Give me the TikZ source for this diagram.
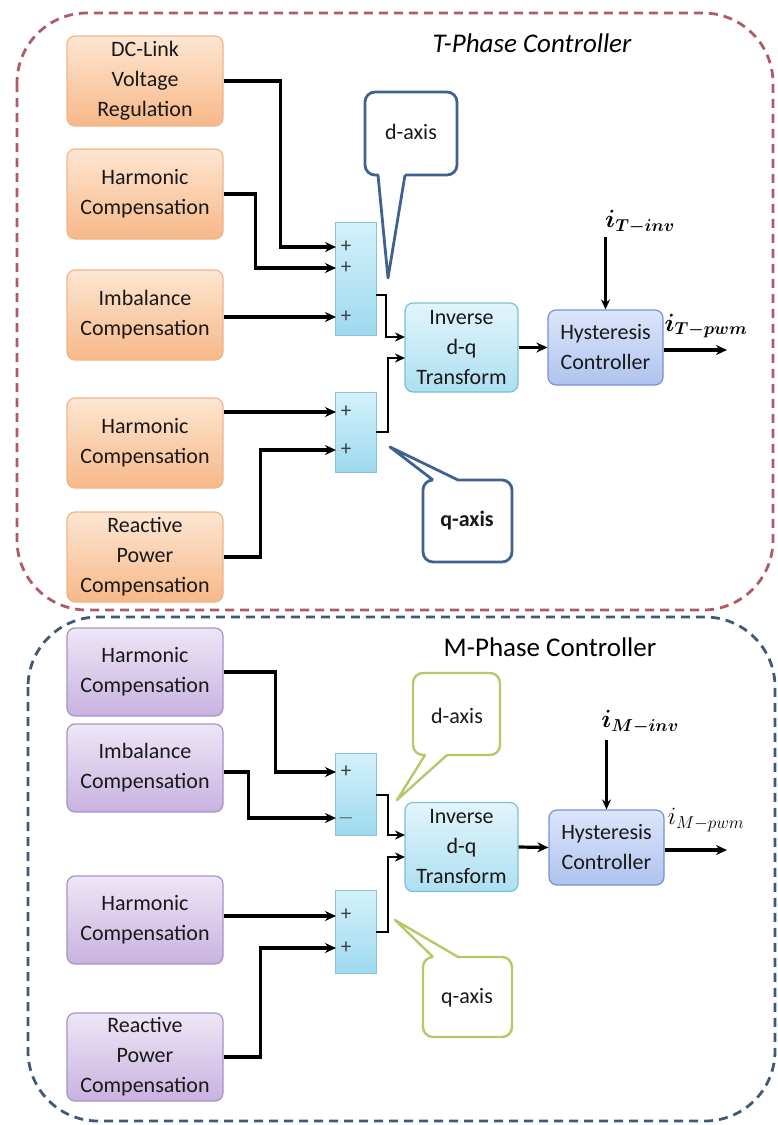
\documentclass[tikz,border=0pt]{standalone}
\usepackage{fontspec}
\setmainfont{Carlito}
\usepackage{amsmath,bm}
\usetikzlibrary{arrows.meta}
\definecolor{tred}{HTML}{B05A66}
\definecolor{mblue}{HTML}{3E5A78}
\definecolor{calblue}{HTML}{3F6290}
\definecolor{calgreen}{HTML}{B7C86A}
\definecolor{otop}{HTML}{FDE6D2}
\definecolor{obot}{HTML}{F7B888}
\definecolor{oedge}{HTML}{EFB48A}
\definecolor{ptop}{HTML}{EEE6F6}
\definecolor{pbot}{HTML}{C8B2E0}
\definecolor{pedge}{HTML}{A892C6}
\definecolor{stop}{HTML}{D4F1FB}
\definecolor{sbot}{HTML}{9ED9EF}
\definecolor{sedge}{HTML}{86C3D8}
\definecolor{itop}{HTML}{E2F5FC}
\definecolor{ibot}{HTML}{ADDFF1}
\definecolor{iedge}{HTML}{7CBFD6}
\definecolor{htop}{HTML}{DCE5FA}
\definecolor{hbot}{HTML}{AFC3EF}
\definecolor{hedge}{HTML}{7393D2}
\begin{document}
\begin{tikzpicture}[x=1pt,y=-1pt,
  txt/.style={font=\fontsize{22}{30}\selectfont, text=black!90, align=center},
  obox/.style={txt, rounded corners=8pt, draw=oedge, line width=1.2pt, top color=otop, bottom color=obot, minimum width=156pt, minimum height=90pt},
  pbox/.style={txt, rounded corners=8pt, draw=pedge, line width=1.2pt, top color=ptop, bottom color=pbot, minimum width=156pt, minimum height=88pt},
  sumbox/.style={draw=sedge, line width=1pt, top color=stop, bottom color=sbot, minimum width=41pt},
  invbox/.style={txt, rounded corners=8pt, draw=iedge, line width=1.2pt, top color=itop, bottom color=ibot, minimum width=113pt, minimum height=89pt},
  hysbox/.style={txt, rounded corners=8pt, draw=hedge, line width=1.2pt, top color=htop, bottom color=hbot, minimum width=115pt, minimum height=75pt},
  conn/.style={draw=black, line width=3.2pt, -{Stealth[length=11pt,width=10pt]}},
  thin/.style={draw=black, line width=2.4pt, -{Stealth[length=10pt,width=9pt]}},
  sign/.style={font=\fontsize{21}{22}\selectfont, text=black!75},
  outer/.style={dashed, dash pattern=on 9pt off 6pt, line width=2.8pt, rounded corners=70pt},
  ctext/.style={font=\fontsize{22}{24}\selectfont, text=black!90},
]
\useasboundingbox (0,0) rectangle (778,1125);

% ---------- outer boxes ----------
\draw[outer, draw=tred] (17,13) rectangle (773,610);
\draw[outer, draw=mblue] (28,617) rectangle (775,1121);

\node[font=\fontsize{27}{30}\selectfont\itshape] (tt) at (532,43) {T-Phase Controller};
\node[font=\fontsize{27}{30}\selectfont] (mt) at (550,647) {M-Phase Controller};

% ---------- T phase ----------
\node[obox] (t1) at (145,81) {DC-Link\\Voltage\\Regulation};
\node[obox] (t2) at (145,194) {Harmonic\\Compensation};
\node[obox] (t3) at (145,315) {Imbalance\\Compensation};
\node[obox] (t4) at (145,443) {Harmonic\\Compensation};
\node[obox] (t5) at (145,557) {Reactive\\Power\\Compensation};

\node[sumbox, minimum height=113pt] (ts1) at (355.5,278.5) {};
\node[sumbox, minimum height=80pt] (ts2) at (355.5,432) {};

\node[sign] (ts1a) at (346,247) {+};
\node[sign] (ts1b) at (346,268) {+};
\node[sign] (ts1c) at (346,317) {+};
\node[sign] (ts2a) at (346,412) {+};
\node[sign] (ts2b) at (346,450) {+};

\coordinate (ti1) at (336,247);
\coordinate (ti2) at (336,268);
\coordinate (ti3) at (336,317);
\coordinate (ti4) at (336,412);
\coordinate (ti5) at (336,450);

\draw[conn] (t1.east) -- ++(57,0) |- (ti1);
\draw[conn] (t2.east) -- ++(32,0) |- (ti2);
\draw[conn] (t3.east |- ti3) -- (ti3);
\draw[conn] (t4.east |- ti4) -- (ti4);
\draw[conn] (t5.east) -- ++(37,0) |- (ti5);

\node[invbox] (tinvb) at (461.5,347.5) {Inverse\\d-q\\Transform};
\node[hysbox] (thys) at (605.5,347.5) {Hysteresis\\Controller};

\coordinate (to1) at (376,295);
\coordinate (to2) at (376,432);
\coordinate (tin1) at (405,337);
\coordinate (tin2) at (405,358);
\draw[thin] (to1) -- ++(10,0) |- (tin1);
\draw[thin] (to2) -- ++(12,0) |- (tin2);

\draw[conn] (tinvb.east) -- (thys.west);
\coordinate (tref) at (605.5,237);
\coordinate (tout) at (727,350);
\draw[thin] (tref) -- (thys.north);
\draw[conn] (thys.east |- tout) -- (tout);
\node[font=\fontsize{27}{30}\selectfont] (tlab1) at (640,222) {$\bm{i_{T-inv}}$};
\node[font=\fontsize{27}{30}\selectfont] (tlab2) at (706,326) {$\bm{i_{T-pwm}}$};

% callouts T
\draw[calblue, line width=2.8pt, fill=white, line join=round]
  (405,175) -- (388,278) -- (378,175) [rounded corners=10pt] -- (365,175) -- (365,92) -- (457,92) -- (457,175) -- (405,175);
\node[ctext] (tda) at (411,132) {d-axis};
\draw[calblue, line width=2.8pt, fill=white, line join=round]
  (433,480) -- (390,447) -- (458,480) [rounded corners=10pt] -- (512,480) -- (512,562) -- (423,562) -- (423,480) -- (433,480);
\node[ctext, font=\fontsize{22}{24}\selectfont\bfseries] (tqa) at (467,521) {q-axis};

% ---------- M phase ----------
\node[pbox] (m1) at (145,672) {Harmonic\\Compensation};
\node[pbox] (m2) at (145,768) {Imbalance\\Compensation};
\node[pbox] (m3) at (145,920) {Harmonic\\Compensation};
\node[pbox] (m4) at (145,1057) {Reactive\\Power\\Compensation};

\node[sumbox, minimum height=82pt] (ms1) at (355.5,794) {};
\node[sumbox, minimum height=83pt] (ms2) at (355.5,931.5) {};

\node[sign] (ms1a) at (346,772) {+};
\node[sign] (ms1b) at (346,818) {$-$};
\node[sign] (ms2a) at (346,915) {+};
\node[sign] (ms2b) at (346,948) {+};

\coordinate (mi1) at (336,772);
\coordinate (mi2) at (336,818);
\coordinate (mi3) at (336,916);
\coordinate (mi4) at (336,948);

\draw[conn] (m1.east) -- ++(52,0) |- (mi1);
\draw[conn] (m2.east |- mi1) -- ++(25,0) |- (mi2);
\draw[conn] (m3.east |- mi3) -- (mi3);
\draw[conn] (m4.east) -- ++(37,0) |- (mi4);

\node[invbox] (minvb) at (461.5,847) {Inverse\\d-q\\Transform};
\node[hysbox] (mhys) at (606.5,847.5) {Hysteresis\\Controller};

\coordinate (mo1) at (376,795);
\coordinate (mo2) at (376,932);
\coordinate (min1) at (405,835);
\coordinate (min2) at (405,857);
\draw[thin] (mo1) -- ++(12,0) |- (min1);
\draw[thin] (mo2) -- ++(12,0) |- (min2);

\draw[conn] (minvb.east) -- (mhys.west);
\coordinate (mref) at (606.5,740);
\coordinate (mout) at (727,850);
\draw[thin] (mref) -- (mhys.north);
\draw[conn] (mhys.east |- mout) -- (mout);
\node[font=\fontsize{27}{30}\selectfont] (mlab1) at (640,722) {$\bm{i_{M-inv}}$};
\node[font=\fontsize{27}{30}\selectfont] (mlab2) at (706,820) {$i_{M-pwm}$};

% callouts M
\draw[calgreen, line width=2.4pt, fill=white, line join=round]
  (447,755) -- (397,800) -- (425,755) [rounded corners=10pt] -- (413,755) -- (413,673) -- (500,673) -- (500,755) -- (447,755);
\node[ctext] (mda) at (457,716) {d-axis};
\draw[calgreen, line width=2.4pt, fill=white, line join=round]
  (433,957) -- (395,920) -- (458,957) [rounded corners=10pt] -- (512,957) -- (512,1037) -- (423,1037) -- (423,957) -- (433,957);
\node[ctext] (mqa) at (467,998) {q-axis};
\end{tikzpicture}
\end{document}
